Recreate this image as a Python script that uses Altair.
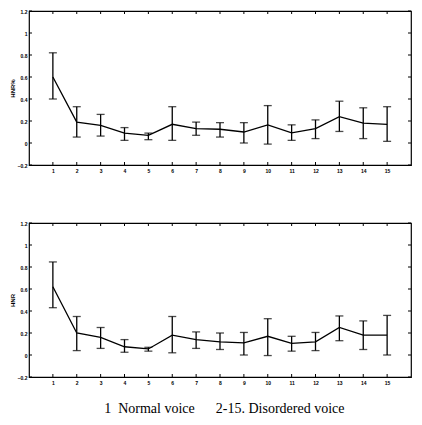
import altair as alt
import pandas as pd

groups = list(range(1, 16))

top_mean = [0.60, 0.19, 0.16, 0.09, 0.07, 0.17, 0.13, 0.125, 0.10, 0.165, 0.093, 0.13, 0.24, 0.18, 0.17]
top_lo = [0.40, 0.054, 0.063, 0.024, 0.03, 0.024, 0.07, 0.054, 0.0, -0.01, 0.024, 0.04, 0.105, 0.04, 0.015]
top_hi = [0.82, 0.33, 0.26, 0.14, 0.09, 0.33, 0.19, 0.185, 0.185, 0.34, 0.165, 0.21, 0.38, 0.32, 0.33]

bot_mean = [0.62, 0.20, 0.16, 0.075, 0.055, 0.18, 0.14, 0.12, 0.11, 0.17, 0.105, 0.12, 0.25, 0.18, 0.18]
bot_lo = [0.43, 0.04, 0.06, 0.025, 0.035, 0.02, 0.06, 0.05, 0.0, -0.005, 0.035, 0.04, 0.13, 0.05, 0.0]
bot_hi = [0.846, 0.35, 0.25, 0.14, 0.07, 0.35, 0.21, 0.20, 0.205, 0.33, 0.17, 0.205, 0.355, 0.31, 0.36]

x_ticks = list(range(1, 16))
y_ticks = [-0.2, 0, 0.2, 0.4, 0.6, 0.8, 1.0, 1.2]
x_domain = [0, 16]
y_domain = [-0.2, 1.2]

top_title = "HNR%"
bot_title = "HNR"
caption = "1\u00a0\u00a0Normal voice\u00a0\u00a0\u00a0\u00a0\u00a0\u00a02-15. Disordered voice"

W, H = 382, 154
tick_dx = (x_domain[1] - x_domain[0]) * 3 / W
tick_dy = (y_domain[1] - y_domain[0]) * 3 / H


def panel(mean, lo, hi, title):
    df = pd.DataFrame({"g": groups, "m": mean, "lo": lo, "hi": hi})
    xs = alt.Scale(domain=x_domain, nice=False, zero=False)
    ys = alt.Scale(domain=y_domain, nice=False, zero=False)
    xa = alt.Axis(values=x_ticks, title=None, ticks=False, domain=False, grid=False,
                  labelPadding=3, format="d", labelOverlap=False, labelBound=False)
    ya = alt.Axis(values=y_ticks, title=title, ticks=False, domain=False, grid=False,
                  labelPadding=2, format="~g", titlePadding=2, labelOverlap=False,
                  labelBound=False)

    def X(f):
        return alt.X(f, scale=xs, axis=xa, title=None)

    def Y(f):
        return alt.Y(f, scale=ys, axis=ya, title=title)

    base = alt.Chart(df)
    line = base.mark_line(color="black", strokeWidth=1.3).encode(x=X("g:Q"), y=Y("m:Q"))
    bars = base.mark_rule(color="black", strokeWidth=1.3).encode(x=X("g:Q"), y=Y("lo:Q"), y2="hi:Q")
    cap_lo = base.mark_tick(color="black", thickness=1.3, size=8, orient="horizontal").encode(
        x=X("g:Q"), y=Y("lo:Q"))
    cap_hi = base.mark_tick(color="black", thickness=1.3, size=8, orient="horizontal").encode(
        x=X("g:Q"), y=Y("hi:Q"))

    xt = pd.DataFrame({"t": x_ticks})
    yt = pd.DataFrame({"t": y_ticks})
    bt = alt.Chart(xt).transform_calculate(a=f"{y_domain[0]}", b=f"{y_domain[0] + tick_dy}")
    tt = alt.Chart(xt).transform_calculate(a=f"{y_domain[1]}", b=f"{y_domain[1] - tick_dy}")
    lt = alt.Chart(yt).transform_calculate(a=f"{x_domain[0]}", b=f"{x_domain[0] + tick_dx}")
    rt = alt.Chart(yt).transform_calculate(a=f"{x_domain[1]}", b=f"{x_domain[1] - tick_dx}")
    ticks = []
    for c in (bt, tt):
        ticks.append(c.mark_rule(color="black", strokeWidth=1).encode(
            x=X("t:Q"), y=Y("a:Q"), y2="b:Q"))
    for c in (lt, rt):
        ticks.append(c.mark_rule(color="black", strokeWidth=1).encode(
            y=Y("t:Q"), x=X("a:Q"), x2="b:Q"))
    return alt.layer(line, bars, cap_lo, cap_hi, *ticks).properties(width=W, height=H)


chart = alt.vconcat(
    panel(top_mean, top_lo, top_hi, top_title),
    panel(bot_mean, bot_lo, bot_hi, bot_title),
    spacing=46,
).properties(
    title=alt.TitleParams(caption, orient="bottom", anchor="middle", font="Liberation Serif",
                          fontSize=14, fontWeight="normal", offset=16, dx=14),
    padding={"left": 0, "top": 0, "right": 0, "bottom": 0},
).configure_view(stroke="black", strokeWidth=1.2).configure_axis(
    labelFont="Liberation Sans", labelFontSize=5, labelFontWeight="bold", labelColor="black",
    titleFont="Liberation Sans", titleFontSize=6, titleFontWeight="bold", titleColor="black",
    labelOverlap=False,
)

chart.save("out.html", embed_options={"renderer": "svg", "actions": False})
